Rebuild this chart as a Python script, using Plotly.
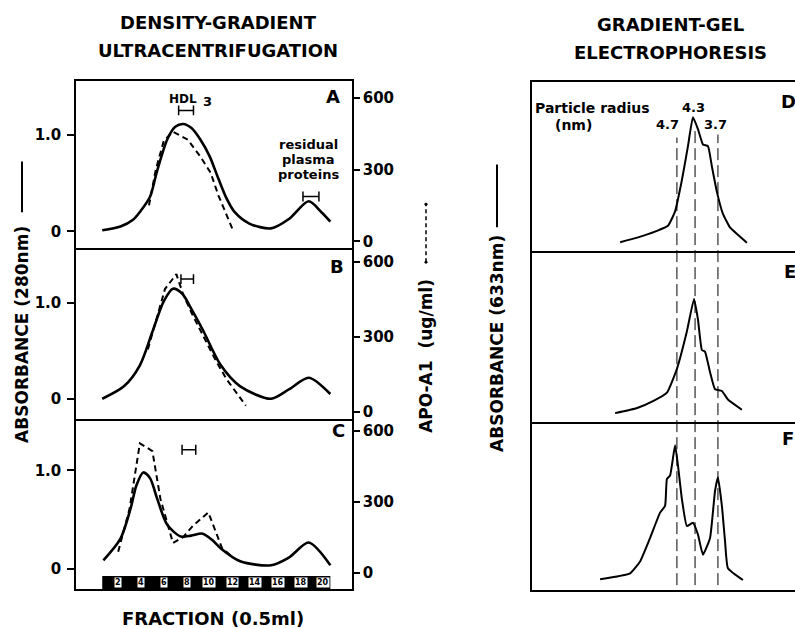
import plotly.graph_objects as go

# ---------------- data ----------------
# Panel A (density-gradient ultracentrifugation)
fracA = [0.6, 2.2, 3.3, 3.9, 4.8, 5.4, 6.3, 7.0, 7.7, 8.4, 9.2, 10.0, 10.8, 11.5, 12.2, 13.5, 15.4, 17.0, 18.7, 19.8, 20.6]
absA = [0.01, 0.05, 0.12, 0.2, 0.36, 0.62, 0.95, 1.08, 1.11, 1.07, 0.95, 0.78, 0.54, 0.34, 0.2, 0.08, 0.03, 0.13, 0.31, 0.2, 0.1]
fracA_apo = [4.7, 5.3, 6.0, 6.8, 8.1, 9.2, 10.1, 10.8, 12.1]
apoA = [150, 300, 420, 458, 425, 354, 287, 190, 42]

# Panel B
fracB = [0.6, 2.5, 3.9, 5.0, 6.0, 6.8, 7.6, 8.5, 9.5, 11.0, 12.7, 15.4, 17.0, 18.7, 20.6]
absB = [0.0, 0.13, 0.35, 0.7, 1.02, 1.15, 1.1, 0.92, 0.7, 0.35, 0.13, 0.0, 0.1, 0.22, 0.05]
fracB_apo = [4.6, 5.5, 6.1, 7.1, 7.7, 8.5, 9.5, 10.5, 11.5, 13.2]
apoB = [250, 390, 492, 552, 470, 390, 300, 210, 130, 24]

# Panel C
fracC = [0.7, 2.2, 3.1, 3.6, 4.2, 4.8, 5.4, 6.3, 7.5, 8.4, 9.4, 10.2, 11.0, 12.7, 15.4, 17.0, 18.7, 20.6]
absC = [0.09, 0.31, 0.62, 0.85, 0.98, 0.92, 0.72, 0.45, 0.33, 0.34, 0.36, 0.3, 0.21, 0.08, 0.04, 0.12, 0.27, 0.04]
fracC_apo = [2.0, 3.0, 3.9, 5.0, 5.7, 6.8, 7.7, 8.6, 9.9, 11.1, 12.1]
apoC = [88, 270, 546, 513, 312, 125, 150, 200, 254, 104, 62]

# HDL3 / residual plasma protein brackets (fraction ranges)
hdl3_A = [7.3, 8.6]
hdl3_B = [7.5, 8.6]
hdl3_C = [7.6, 8.8]
residual_A = [18.2, 19.6]
bracket_level = [1.25, 1.25, 1.21]
residual_level = 0.36

# fraction strip labels
strip_fracs = [2, 4, 6, 8, 10, 12, 14, 16, 18, 20]
strip_labels = ["2", "4", "6", "8", "10", "12", "14", "16", "18", "20"]
strip_span = [0.6, 20.6]

# Gradient-gel scans (migration distance, arbitrary absorbance)
distD = [33.5, 40.0, 47.5, 51.7, 54.4, 57.0, 59.3, 61.2, 63.1, 65.0, 66.9, 68.4, 70.3, 72.6, 75.3, 81.7]
scanD = [0.053, 0.08, 0.12, 0.15, 0.235, 0.42, 0.62, 0.79, 0.72, 0.63, 0.62, 0.5, 0.35, 0.22, 0.14, 0.05]
distE = [31.6, 40.0, 46.0, 51.3, 55.1, 58.9, 61.6, 63.1, 64.6, 65.8, 67.7, 69.6, 72.2, 74.5, 79.8]
scanE = [0.05, 0.08, 0.12, 0.17, 0.31, 0.53, 0.72, 0.6, 0.42, 0.41, 0.29, 0.19, 0.18, 0.13, 0.07]
distF = [25.9, 37.3, 41.1, 44.9, 48.7, 50.6, 51.3, 52.5, 54.4, 55.5, 57.0, 58.9, 61.2, 63.1, 65.0, 67.7, 69.6, 70.7, 72.2, 73.4, 74.5, 80.2]
scanF = [0.065, 0.1, 0.17, 0.31, 0.46, 0.5, 0.66, 0.68, 0.86, 0.74, 0.54, 0.38, 0.4, 0.33, 0.21, 0.31, 0.59, 0.67, 0.5, 0.29, 0.13, 0.06]

radius_nm = ["4.7", "4.3", "3.7"]
radius_pos = [55.1, 62.0, 70.7]

# ---------------- figure ----------------
W, H = 795, 628
FONT = "DejaVu Sans"


def px(x):
    return x / W


def py(y):
    return 1 - y / H


fig = go.Figure()

solid = dict(color="black", width=2.6)
dashed = dict(color="black", width=2, dash="6px,4px")
scanline = dict(color="black", width=2)

for xs, ys, xa, ya in [(fracA, absA, "x", "y"), (fracB, absB, "x2", "y2"), (fracC, absC, "x3", "y3")]:
    fig.add_trace(go.Scatter(x=xs, y=ys, mode="lines", line=dict(shape="spline", smoothing=0.8, **solid),
                             xaxis=xa, yaxis=ya, showlegend=False, hoverinfo="skip"))
for xs, ys, xa, ya in [(fracA_apo, apoA, "x", "y7"), (fracB_apo, apoB, "x2", "y8"), (fracC_apo, apoC, "x3", "y9")]:
    fig.add_trace(go.Scatter(x=xs, y=ys, mode="lines", line=dashed,
                             xaxis=xa, yaxis=ya, showlegend=False, hoverinfo="skip"))

# brackets
for rng, lvl, xa, ya in [(hdl3_A, bracket_level[0], "x", "y"), (hdl3_B, bracket_level[1], "x2", "y2"),
                         (hdl3_C, bracket_level[2], "x3", "y3"), (residual_A, residual_level, "x", "y")]:
    fig.add_trace(go.Scatter(x=rng, y=[lvl, lvl], mode="lines+markers",
                             line=dict(color="black", width=1.5),
                             marker=dict(symbol="line-ns", size=7, line=dict(color="black", width=1.5)),
                             xaxis=xa, yaxis=ya, showlegend=False, hoverinfo="skip"))

for xs, ys, xa, ya in [(distD, scanD, "x4", "y4"), (distE, scanE, "x5", "y5"), (distF, scanF, "x6", "y6")]:
    fig.add_trace(go.Scatter(x=xs, y=ys, mode="lines", line=dict(shape="spline", smoothing=0.4, **scanline),
                             xaxis=xa, yaxis=ya, showlegend=False, hoverinfo="skip"))

# ---------------- axes ----------------
LX = [px(76), px(352)]
RX = [px(532), 1.0]
left_dom = [[py(249), py(81)], [py(420), py(249)], [py(591), py(420)]]
right_dom = [[py(252), py(82)], [py(423), py(252)], [py(592), py(423)]]
left_rng = [[-0.175, 1.557], [-0.208, 1.573], [-0.202, 1.525]]
apo_rng = [[-29, 671], [-28, 656], [-70, 650]]

tickfont = dict(family=FONT, size=15, color="black", weight="bold")
layout = {}
for i in range(3):
    n = "" if i == 0 else str(i + 1)
    layout["xaxis" + n] = dict(domain=LX, range=[-1.7, 22.5], anchor="y" + n, showline=True,
                               mirror=(i == 0), linecolor="black", linewidth=1.5, showticklabels=False,
                               ticks="", showgrid=False, zeroline=False)
    layout["yaxis" + n] = dict(domain=left_dom[i], range=left_rng[i], anchor="x" + n, showline=True,
                               linecolor="black", linewidth=1.5, ticks="outside", ticklen=7, tickwidth=1.5,
                               tickcolor="black", tickvals=[0, 1.0], ticktext=["0", "1.0"], tickfont=tickfont,
                               showgrid=False, zeroline=False, ticklabelstandoff=3)
    m = str(i + 7)
    layout["yaxis" + m] = dict(overlaying="y" + n, side="right", anchor="x" + n, range=apo_rng[i],
                               showline=True, linecolor="black", linewidth=1.5, ticks="outside", ticklen=6,
                               tickwidth=1.5, tickcolor="black", tickvals=[0, 300, 600],
                               ticktext=["0", "300", "600"], tickfont=tickfont, showgrid=False, zeroline=False)
for i in range(3):
    n = str(i + 4)
    layout["xaxis" + n] = dict(domain=RX, range=[0, 100], anchor="y" + n, showline=True, mirror=(i == 0),
                               linecolor="black", linewidth=1.5, showticklabels=False, ticks="",
                               showgrid=False, zeroline=False)
    layout["yaxis" + n] = dict(domain=right_dom[i], range=[0, 1], anchor="x" + n, showline=True,
                               linecolor="black", linewidth=1.5, showticklabels=False, ticks="",
                               showgrid=False, zeroline=False)

fig.update_layout(width=W, height=H, margin=dict(l=0, r=0, t=0, b=0), paper_bgcolor="white",
                  plot_bgcolor="white", showlegend=False, **layout)

# ---------------- annotations ----------------
ann = []


def text(x, y, s, size=18, bold=True, angle=0, xanchor="center"):
    ann.append(dict(x=px(x), y=py(y), xref="paper", yref="paper", text=s, showarrow=False,
                    xanchor=xanchor, yanchor="middle", textangle=angle,
                    font=dict(family=FONT, size=size, color="black", weight="bold" if bold else "normal")))


text(218, 23, "DENSITY-GRADIENT")
text(218, 51, "ULTRACENTRIFUGATION")
text(670, 25, "GRADIENT-GEL")
text(670, 53, "ELECTROPHORESIS")
text(213, 620, "FRACTION (0.5ml)")
text(22, 336, "ABSORBANCE (280nm)", size=17, angle=-90)
text(426, 357, "APO-A1  (ug/ml)", size=17, angle=-90)
text(497, 345, "ABSORBANCE (633nm)", size=17, angle=-90)
for lab, x, y in [("A", 333, 97), ("B", 337, 267), ("C", 338, 432), ("D", 788, 102), ("E", 790, 272), ("F", 788, 440)]:
    text(x, y, lab, size=18)
text(183, 99, "HDL", size=12)
text(207, 102, "3", size=13)
text(308, 145, "residual", size=13)
text(308, 160, "plasma", size=13)
text(308, 175, "proteins", size=13)
text(592, 108, "Particle radius", size=14)
text(573, 125, "(nm)", size=14)

# radius labels (data x for right panels)
rad_y = [125, 108, 125]
rad_anchor = ["right", "center", "center"]
rad_shift = [4, -2, -2]
for lab, xv, yy, anc, sh in zip(radius_nm, radius_pos, rad_y, rad_anchor, rad_shift):
    ann.append(dict(x=xv, y=py(yy), xref="x4", yref="paper", text=lab, showarrow=False, xanchor=anc,
                    yanchor="middle", xshift=sh, font=dict(family=FONT, size=13, color="black", weight="bold")))

# fraction strip labels
for f, lab in zip(strip_fracs, strip_labels):
    ann.append(dict(x=f, y=-0.135, xref="x3", yref="y3", text=lab, showarrow=False, bgcolor="white",
                    borderpad=0, font=dict(family=FONT, size=8, color="black", weight="bold")))

fig.update_layout(annotations=ann)

# ---------------- shapes ----------------
shapes = []
# fraction strip
shapes.append(dict(type="rect", xref="x3", yref="y3", x0=strip_span[0], x1=strip_span[1], y0=-0.202, y1=-0.07,
                   fillcolor="black", line=dict(width=0), layer="below"))
# axis-title keys
shapes.append(dict(type="line", xref="paper", yref="paper", x0=px(22), x1=px(22), y0=py(213), y1=py(162),
                   line=dict(color="black", width=2)))
shapes.append(dict(type="line", xref="paper", yref="paper", x0=px(426), x1=px(426), y0=py(263), y1=py(205),
                   line=dict(color="black", width=1.5, dash="4px,3px")))
for yy in (205, 263):
    shapes.append(dict(type="circle", xref="paper", yref="paper", x0=px(424.5), x1=px(427.5),
                       y0=py(yy + 1.5), y1=py(yy - 1.5), fillcolor="black", line=dict(width=0)))
shapes.append(dict(type="line", xref="paper", yref="paper", x0=px(497), x1=px(497), y0=py(228), y1=py(165),
                   line=dict(color="black", width=2)))
# particle radius reference lines
for xv, top in zip(radius_pos, [138, 127, 135]):
    shapes.append(dict(type="line", xref="x4", yref="paper", x0=xv, x1=xv, y0=py(587), y1=py(top),
                       line=dict(color="black", width=1, dash="12px,5px")))
fig.update_layout(shapes=shapes)

fig.write_html("out.html")
